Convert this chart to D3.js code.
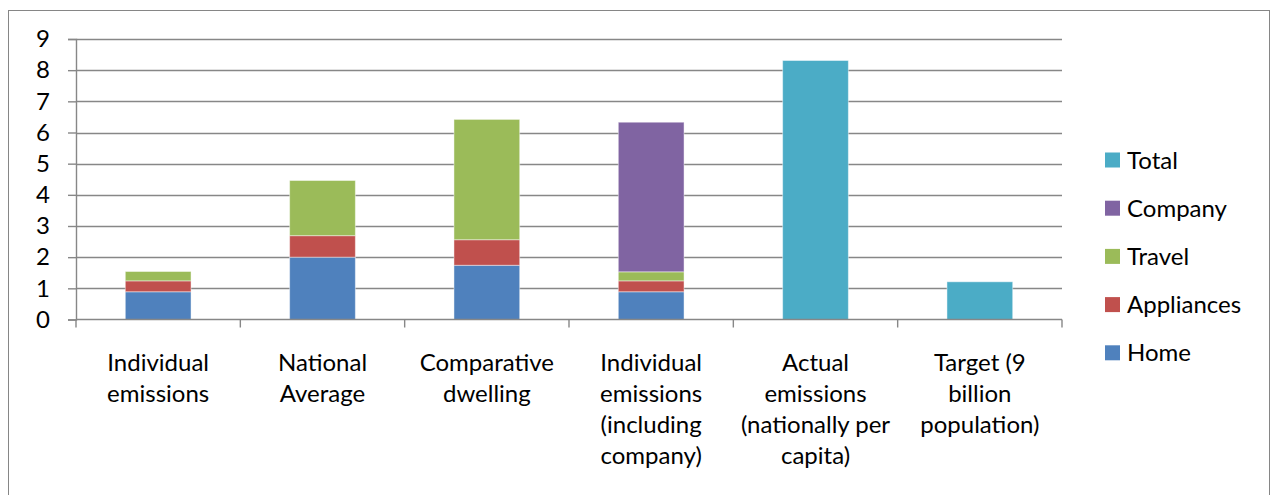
<!DOCTYPE html>
<html>
<head>
<meta charset="utf-8">
<script src="https://cdn.jsdelivr.net/npm/d3@7"></script>
<style>
  html, body { margin: 0; padding: 0; background: #fff; }
  svg { display: block; }
  text { font-family: Lato, "Open Sans", sans-serif; fill: #000; }
</style>
</head>
<body>
<svg id="chart" width="1271" height="495"></svg>
<script>
const categories = [
  ["Individual", "emissions"],
  ["National", "Average"],
  ["Comparative", "dwelling"],
  ["Individual", "emissions", "(including", "company)"],
  ["Actual", "emissions", "(nationally per", "capita)"],
  ["Target (9", "billion", "population)"]
];
const seriesNames = ["Home", "Appliances", "Travel", "Company", "Total"];
const home       = [0.89, 2.00, 1.74, 0.89, 0, 0];
const appliances = [0.35, 0.69, 0.82, 0.35, 0, 0];
const travel     = [0.30, 1.77, 3.86, 0.29, 0, 0];
const company    = [0, 0, 0, 4.80, 0, 0];
const total      = [0, 0, 0, 0, 8.31, 1.21];
const yTicks = [0, 1, 2, 3, 4, 5, 6, 7, 8, 9];
const colors = { Home: "#4F81BD", Appliances: "#C0504D", Travel: "#9BBB59", Company: "#8064A2", Total: "#4BACC6" };

(function () {
const rows = categories.map((c, i) => ({
  idx: i, Home: home[i], Appliances: appliances[i], Travel: travel[i], Company: company[i], Total: total[i]
}));

const svg = d3.select("#chart");
const pLeft = 76, pRight = 1062, pTop = 39, pBottom = 319.5;
const fs = "24px";

// outer border
svg.append("rect").attr("x", 8.5).attr("y", 10.5).attr("width", 1261).attr("height", 500)
  .attr("fill", "none").attr("stroke", "#868686").attr("stroke-width", 1);

const x = d3.scaleBand().domain(rows.map(r => r.idx)).range([pLeft, pRight]).padding(0);
const y = d3.scaleLinear().domain([0, 9]).range([pBottom, pTop]);

// gridlines
svg.append("g").selectAll("line").data(yTicks.filter(t => t > 0)).join("line")
  .attr("x1", pLeft).attr("x2", pRight)
  .attr("y1", d => Math.round(y(d)) + 0.5).attr("y2", d => Math.round(y(d)) + 0.5)
  .attr("stroke", "#878787").attr("stroke-width", 1.4);

// bars
const stack = d3.stack().keys(seriesNames)(rows);
const barW = x.bandwidth() * 0.4;
svg.append("g").selectAll("g").data(stack).join("g")
  .attr("fill", d => colors[d.key])
  .selectAll("rect").data(d => d.filter(p => p[1] - p[0] > 0)).join("rect")
  .attr("x", d => x(d.data.idx) + (x.bandwidth() - barW) / 2)
  .attr("width", barW)
  .attr("y", d => y(d[1]))
  .attr("height", d => y(d[0]) - y(d[1]))
  .attr("stroke", "rgba(255,255,255,0.45)").attr("stroke-width", 1);

// y axis
const yAxis = d3.axisLeft(y).tickValues(yTicks).tickSize(8).tickPadding(18).tickFormat(d3.format("d"));
const gy = svg.append("g").attr("transform", `translate(${pLeft},0)`).call(yAxis);
gy.select(".domain").attr("stroke", "#878787").attr("stroke-width", 1.4);
gy.selectAll(".tick line").attr("stroke", "#878787").attr("stroke-width", 1.4);
gy.selectAll(".tick text").style("font-family", "Lato, sans-serif").style("font-size", fs).attr("fill", "#000");

// x axis line and ticks at category boundaries
const boundaries = rows.map(r => x(r.idx)).concat([pRight]);
svg.append("line").attr("x1", pLeft).attr("x2", pRight).attr("y1", pBottom).attr("y2", pBottom)
  .attr("stroke", "#878787").attr("stroke-width", 1.4);
svg.append("g").selectAll("line").data(boundaries).join("line")
  .attr("x1", d => d).attr("x2", d => d).attr("y1", pBottom).attr("y2", pBottom + 8)
  .attr("stroke", "#878787").attr("stroke-width", 1.4);

// x labels
const lab = svg.append("g").selectAll("text").data(rows).join("text")
  .attr("text-anchor", "middle")
  .style("font-size", fs)
  .attr("x", d => x(d.idx) + x.bandwidth() / 2)
  .attr("y", 371);
lab.selectAll("tspan").data(d => categories[d.idx].map(t => ({ t, cx: x(d.idx) + x.bandwidth() / 2 }))).join("tspan")
  .attr("x", d => d.cx)
  .attr("dy", (d, i) => i === 0 ? 0 : 31)
  .text(d => d.t);

// legend
const legendItems = seriesNames.slice().reverse();
const lg = svg.append("g").selectAll("g").data(legendItems).join("g")
  .attr("transform", (d, i) => `translate(1105, ${160 + i * 48.2})`);
lg.append("rect").attr("x", 0).attr("y", -7.5).attr("width", 15).attr("height", 15).attr("fill", d => colors[d]);
lg.append("text").attr("x", 22).attr("y", 0).attr("dy", "0.36em").style("font-size", fs).text(d => d);
})();
</script>
</body>
</html>
